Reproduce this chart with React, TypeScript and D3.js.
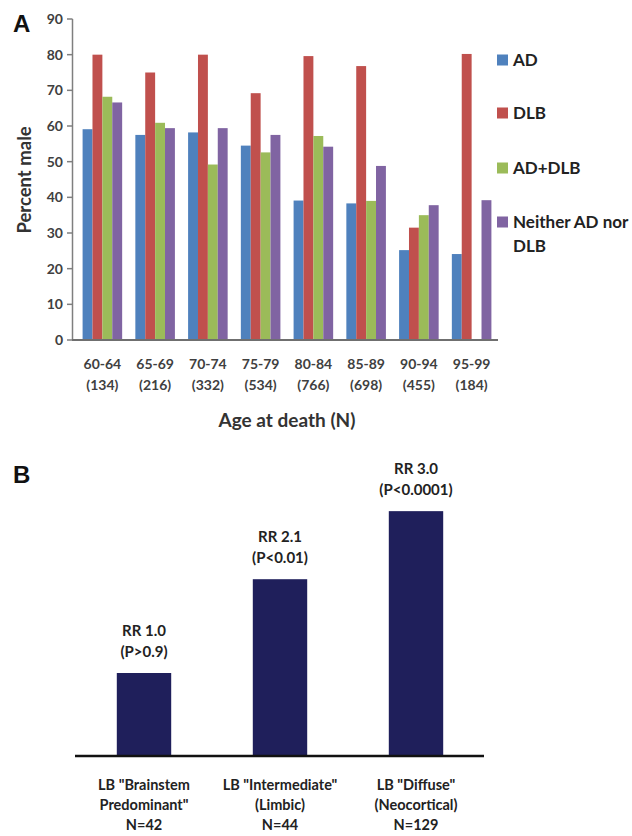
import React from 'react';
import * as d3 from 'd3';

// Panel A: percent male by age at death
const ageGroups = ['60-64', '65-69', '70-74', '75-79', '80-84', '85-89', '90-94', '95-99'];
const ageCounts = ['(134)', '(216)', '(332)', '(534)', '(766)', '(698)', '(455)', '(184)'];
const seriesNames = ['AD', 'DLB', 'AD+DLB', 'Neither AD nor DLB'];
const adValues = [59.1, 57.5, 58.2, 54.5, 39.1, 38.3, 25.2, 24.1];
const dlbValues = [80.0, 75.0, 80.0, 69.2, 79.6, 76.8, 31.5, 80.2];
const adDlbValues = [68.2, 60.9, 49.2, 52.6, 57.2, 39.0, 35.0, 0];
const neitherValues = [66.6, 59.4, 59.4, 57.5, 54.2, 48.8, 37.8, 39.2];
const yTicksA = [0, 10, 20, 30, 40, 50, 60, 70, 80, 90];

// Panel B: relative risk by Lewy body stage
const lbLabels = [
  ['LB "Brainstem', 'Predominant"', 'N=42'],
  ['LB "Intermediate"', '(Limbic)', 'N=44'],
  ['LB "Diffuse"', '(Neocortical)', 'N=129'],
];
const rrLabels = ['RR 1.0', 'RR 2.1', 'RR 3.0'];
const pLabels = ['(P>0.9)', '(P<0.01)', '(P<0.0001)'];
const rrBarValues = [1.0, 2.13, 2.95];

const colors = ['#4F81BD', '#C0504D', '#9BBB59', '#8064A2'];
const font = "Lato, 'Open Sans', sans-serif";

export default function App() {
  const width = 632;
  const height = 836;

  const seriesValues = [adValues, dlbValues, adDlbValues, neitherValues];

  const x0 = d3.scaleBand().domain(ageGroups).range([76, 498]).paddingInner(0.25).paddingOuter(0.125);
  const x1 = d3.scaleBand().domain(seriesNames).range([0, x0.bandwidth()]);
  const yA = d3.scaleLinear().domain([0, 90]).range([340, 19]);

  const xB = d3.scaleBand().domain(rrLabels).range([76, 484]).paddingInner(0.6).paddingOuter(0.3);
  const yB = d3.scaleLinear().domain([0, 3]).range([756, 507]);

  return (
    <svg width={width} height={height} style={{ position: 'absolute', left: 0, top: 0, background: '#fff' }}>
      {/* ---------- Panel A ---------- */}
      <text x={13} y={32} fontFamily="Arial, sans-serif" fontWeight="bold" fontSize={24} fill="#111">A</text>

      {ageGroups.map((g, i) => (
        <g key={g} transform={`translate(${x0(g)},0)`}>
          {seriesNames.map((s, j) => {
            const v = seriesValues[j][i];
            return (
              <rect key={s} x={x1(s)} y={yA(v)} width={x1.bandwidth()} height={yA(0) - yA(v)} fill={colors[j]} />
            );
          })}
        </g>
      ))}

      {/* y axis */}
      <line x1={72.5} x2={72.5} y1={yA(90)} y2={yA(0)} stroke="#7f7f7f" strokeWidth={1.5} />
      {yTicksA.map((t) => (
        <g key={t}>
          <line x1={67} x2={72.5} y1={yA(t)} y2={yA(t)} stroke="#7f7f7f" strokeWidth={1.5} />
          <text x={63} y={yA(t) + 5} textAnchor="end" fontFamily={font} fontWeight="bold" fontSize={14} fill="#404040">{t}</text>
        </g>
      ))}
      <line x1={72} x2={498} y1={yA(0)} y2={yA(0)} stroke="#6f6f6f" strokeWidth={2} />

      {ageGroups.map((g, i) => (
        <g key={g} fontFamily={font} fontWeight="bold" fontSize={14} fill="#404040" textAnchor="middle">
          <text x={x0(g)! + x0.bandwidth() / 2} y={369}>{g}</text>
          <text x={x0(g)! + x0.bandwidth() / 2} y={390}>{ageCounts[i]}</text>
        </g>
      ))}

      <text transform="translate(31,180) rotate(-90)" textAnchor="middle" fontFamily={font} fontWeight="bold" fontSize={18.5} fill="#333">Percent male</text>
      <text x={287} y={427} textAnchor="middle" fontFamily={font} fontWeight="bold" fontSize={19} fill="#333">Age at death (N)</text>

      {/* legend */}
      {[60, 113, 168, 222].map((cy, j) => (
        <g key={seriesNames[j]}>
          <rect x={497} y={cy - 5.5} width={11} height={11} fill={colors[j]} />
          {j < 3 ? (
            <text x={513} y={cy + 6} fontFamily={font} fontWeight="bold" fontSize={17} fill="#222">{seriesNames[j]}</text>
          ) : (
            <text x={513} y={cy + 6} fontFamily={font} fontWeight="bold" fontSize={17} fill="#222">
              <tspan x={513}>Neither AD nor</tspan>
              <tspan x={513} dy={24}>DLB</tspan>
            </text>
          )}
        </g>
      ))}

      {/* ---------- Panel B ---------- */}
      <text x={13} y={483} fontFamily="Arial, sans-serif" fontWeight="bold" fontSize={24} fill="#111">B</text>

      {rrLabels.map((r, i) => {
        const cx = xB(r)! + xB.bandwidth() / 2;
        const top = yB(rrBarValues[i]);
        return (
          <g key={r}>
            <rect x={xB(r)} y={top} width={xB.bandwidth()} height={yB(0) - top} fill="#1F1F5B" />
            <text x={cx} y={top - 37} textAnchor="middle" fontFamily={font} fontWeight="bold" fontSize={15} fill="#222">{r}</text>
            <text x={cx} y={top - 16} textAnchor="middle" fontFamily={font} fontWeight="bold" fontSize={15} fill="#222">{pLabels[i]}</text>
            {lbLabels[i].map((line, k) => (
              <text key={k} x={cx} y={790 + k * 20} textAnchor="middle" fontFamily={font} fontWeight="bold" fontSize={14.5} fill="#222">{line}</text>
            ))}
          </g>
        );
      })}
      <line x1={75} x2={484} y1={yB(0)} y2={yB(0)} stroke="#111" strokeWidth={2.5} />
    </svg>
  );
}
